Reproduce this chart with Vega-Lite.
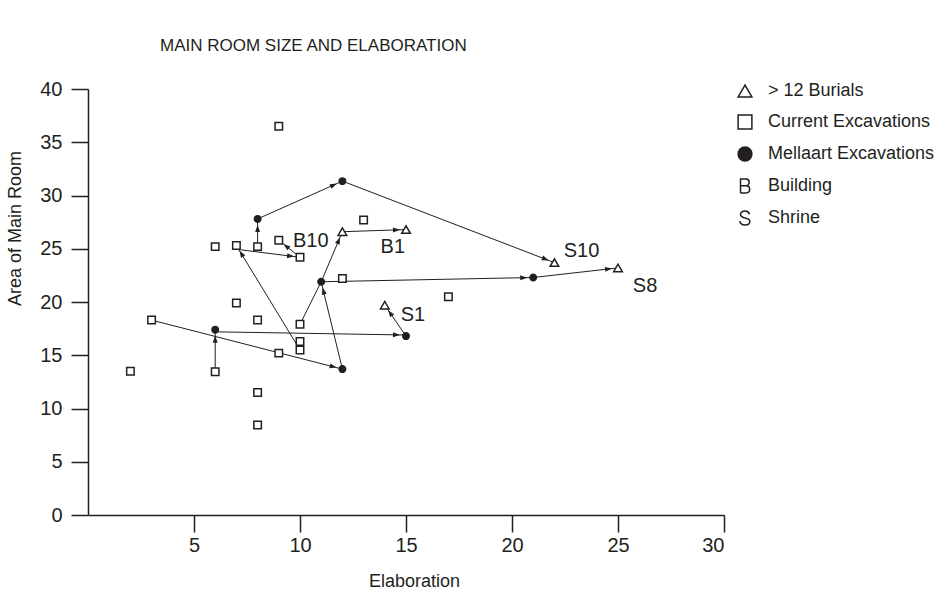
{
  "$schema": "https://vega.github.io/schema/vega-lite/v6.json",
  "width": 636,
  "height": 426,
  "autosize": {"type": "none"},
  "padding": {"left": 88, "top": 89, "right": 216, "bottom": 77},
  "background": "white",
  "config": {"view": {"stroke": null}, "font": "Liberation Sans"},
  "title": {"text": "MAIN ROOM SIZE AND ELABORATION", "anchor": "start", "frame": "group", "dx": 72, "fontSize": 17, "fontWeight": "normal", "color": "#231f20", "offset": 24, "font": "Liberation Sans"},
  "datasets": {
    "points": [
      {"x": 9, "y": 36.5, "kind": "Current Excavations"},
      {"x": 13, "y": 27.7, "kind": "Current Excavations"},
      {"x": 6, "y": 25.2, "kind": "Current Excavations"},
      {"x": 7, "y": 25.3, "kind": "Current Excavations"},
      {"x": 8, "y": 25.2, "kind": "Current Excavations"},
      {"x": 9, "y": 25.8, "kind": "Current Excavations"},
      {"x": 10, "y": 24.2, "kind": "Current Excavations"},
      {"x": 12, "y": 22.2, "kind": "Current Excavations"},
      {"x": 7, "y": 19.9, "kind": "Current Excavations"},
      {"x": 3, "y": 18.3, "kind": "Current Excavations"},
      {"x": 8, "y": 18.3, "kind": "Current Excavations"},
      {"x": 10, "y": 17.9, "kind": "Current Excavations"},
      {"x": 10, "y": 16.3, "kind": "Current Excavations"},
      {"x": 10, "y": 15.5, "kind": "Current Excavations"},
      {"x": 9, "y": 15.2, "kind": "Current Excavations"},
      {"x": 2, "y": 13.5, "kind": "Current Excavations"},
      {"x": 6, "y": 13.45, "kind": "Current Excavations"},
      {"x": 8, "y": 11.5, "kind": "Current Excavations"},
      {"x": 8, "y": 8.45, "kind": "Current Excavations"},
      {"x": 17, "y": 20.5, "kind": "Current Excavations"},
      {"x": 12, "y": 31.35, "kind": "Mellaart Excavations"},
      {"x": 8, "y": 27.8, "kind": "Mellaart Excavations"},
      {"x": 11, "y": 21.9, "kind": "Mellaart Excavations"},
      {"x": 6, "y": 17.4, "kind": "Mellaart Excavations"},
      {"x": 12, "y": 13.7, "kind": "Mellaart Excavations"},
      {"x": 21, "y": 22.3, "kind": "Mellaart Excavations"},
      {"x": 15, "y": 16.8, "kind": "Mellaart Excavations"},
      {"x": 12, "y": 26.6, "kind": "> 12 Burials"},
      {"x": 15, "y": 26.8, "kind": "> 12 Burials"},
      {"x": 22, "y": 23.7, "kind": "> 12 Burials"},
      {"x": 25, "y": 23.2, "kind": "> 12 Burials"},
      {"x": 14, "y": 19.7, "kind": "> 12 Burials"}
    ],
    "arrows": [
      {"x": 8, "y": 25.2, "x2": 8, "y2": 27.8, "head": true},
      {"x": 8, "y": 27.8, "x2": 12, "y2": 31.35, "head": true},
      {"x": 12, "y": 31.35, "x2": 22, "y2": 23.7, "head": true},
      {"x": 7.2, "y": 24.9, "x2": 10, "y2": 24.2, "head": true},
      {"x": 10, "y": 24.2, "x2": 9, "y2": 25.8, "head": true},
      {"x": 10, "y": 15.5, "x2": 7, "y2": 25.3, "head": true},
      {"x": 10, "y": 17.9, "x2": 11, "y2": 21.9, "head": false},
      {"x": 11, "y": 21.9, "x2": 12, "y2": 26.6, "head": true},
      {"x": 12, "y": 13.7, "x2": 11, "y2": 21.9, "head": true},
      {"x": 11, "y": 21.9, "x2": 21, "y2": 22.3, "head": true},
      {"x": 21, "y": 22.3, "x2": 25, "y2": 23.2, "head": true},
      {"x": 12, "y": 26.6, "x2": 15, "y2": 26.8, "head": true},
      {"x": 3, "y": 18.3, "x2": 12, "y2": 13.7, "head": true},
      {"x": 6, "y": 13.45, "x2": 6, "y2": 17.4, "head": true},
      {"x": 6, "y": 17.2, "x2": 15, "y2": 16.9, "head": true},
      {"x": 15, "y": 16.8, "x2": 14, "y2": 19.7, "head": true}
    ],
    "labels": [
      {"x": 9.67, "y": 25.7, "label": "B10"},
      {"x": 13.8, "y": 25.2, "label": "B1"},
      {"x": 22.44, "y": 24.8, "label": "S10"},
      {"x": 25.7, "y": 21.5, "label": "S8"},
      {"x": 14.75, "y": 18.8, "label": "S1"}
    ]
  },
  "encoding": {
    "x": {
      "field": "x", "type": "quantitative", "title": "Elaboration",
      "scale": {"domain": [0, 30], "nice": false, "zero": false},
      "axis": {"values": [5, 10, 15, 20, 25, 30], "grid": false, "tickSize": 17, "tickWidth": 1.5, "tickColor": "#231f20", "domainColor": "#231f20", "domainWidth": 1.5, "labelFontSize": 20, "labelColor": "#231f20", "labelPadding": 3, "labelFont": "Liberation Sans", "titleFont": "Liberation Sans", "titleFontSize": 18, "titleFontWeight": "normal", "titleColor": "#231f20", "titleX": 326, "titleY": 71, "titleBaseline": "alphabetic", "titleAlign": "center"}
    },
    "y": {
      "field": "y", "type": "quantitative", "title": "Area of Main Room",
      "scale": {"domain": [0, 40], "nice": false, "zero": false},
      "axis": {"values": [0, 5, 10, 15, 20, 25, 30, 35, 40], "grid": false, "tickSize": 17, "tickWidth": 1.5, "tickColor": "#231f20", "domainColor": "#231f20", "domainWidth": 1.5, "labelFontSize": 20, "labelColor": "#231f20", "labelPadding": 9, "labelFont": "Liberation Sans", "titleFont": "Liberation Sans", "titleFontSize": 18, "titleFontWeight": "normal", "titleColor": "#231f20", "titleX": -73, "titleY": 139, "titleAngle": -90, "titleAlign": "center", "titleBaseline": "middle"}
    }
  },
  "layer": [
    {
      "data": {"name": "arrows"},
      "mark": {"type": "rule", "color": "#231f20", "strokeWidth": 1},
      "encoding": {
        "x2": {"field": "x2"},
        "y2": {"field": "y2"}
      }
    },
    {
      "data": {"name": "arrows"},
      "transform": [
        {"filter": "datum.head"},
        {"calculate": "atan2((datum.x2 - datum.x) * 636 / 30, (datum.y2 - datum.y) * 426 / 40) * 180 / PI", "as": "angle"}
      ],
      "mark": {"type": "point", "shape": "M0,0.6L0.25,1.3L-0.25,1.3Z", "size": 400, "filled": true, "color": "#231f20", "opacity": 1},
      "encoding": {
        "x": {"field": "x2", "type": "quantitative", "title": "Elaboration"},
        "y": {"field": "y2", "type": "quantitative", "title": "Area of Main Room"},
        "angle": {"field": "angle", "type": "quantitative", "scale": null}
      }
    },
    {
      "data": {"name": "points"},
      "mark": {"type": "point", "strokeWidth": 1.5, "opacity": 1},
      "encoding": {
        "shape": {
          "field": "kind", "type": "nominal",
          "scale": {"domain": ["> 12 Burials", "Current Excavations", "Mellaart Excavations", "Building", "Shrine"],
                    "range": ["triangle-up", "square", "circle", "M-0.65,1V-1H0.15C0.75,-1 0.75,-0.05 0.15,-0.05H-0.65M0.15,-0.05C0.85,-0.05 0.85,1 0.15,1H-0.65", "M0.65,-0.55C0.55,-0.9 0.25,-1 0,-1C-0.45,-1 -0.65,-0.8 -0.65,-0.5C-0.65,-0.15 -0.3,-0.07 0,0C0.4,0.08 0.7,0.2 0.7,0.5C0.7,0.85 0.4,1 0,1C-0.4,1 -0.7,0.85 -0.75,0.45"]},
          "legend": {"title": null, "orient": "none", "legendX": 648, "legendY": -7, "padding": 0, "symbolSize": 190, "symbolStrokeWidth": 1.5, "labelFontSize": 18, "labelFont": "Liberation Sans", "labelColor": "#231f20", "labelOffset": 14, "labelLimit": 400, "rowPadding": 12}
        },
        "fill": {
          "field": "kind", "type": "nominal",
          "scale": {"domain": ["> 12 Burials", "Current Excavations", "Mellaart Excavations", "Building", "Shrine"],
                    "range": ["white", "white", "#231f20", "transparent", "transparent"]},
          "legend": {"title": null, "orient": "none", "legendX": 648, "legendY": -7, "padding": 0, "symbolSize": 190, "symbolStrokeWidth": 1.5, "labelFontSize": 18, "labelFont": "Liberation Sans", "labelColor": "#231f20", "labelOffset": 14, "labelLimit": 400, "rowPadding": 12}
        },
        "stroke": {
          "field": "kind", "type": "nominal",
          "scale": {"domain": ["> 12 Burials", "Current Excavations", "Mellaart Excavations", "Building", "Shrine"],
                    "range": ["#231f20", "#231f20", "#231f20", "#231f20", "#231f20"]},
          "legend": {"title": null, "orient": "none", "legendX": 648, "legendY": -7, "padding": 0, "symbolSize": 190, "symbolStrokeWidth": 1.5, "labelFontSize": 18, "labelFont": "Liberation Sans", "labelColor": "#231f20", "labelOffset": 14, "labelLimit": 400, "rowPadding": 12}
        },
        "size": {
          "condition": [
            {"test": "datum.kind === 'Mellaart Excavations'", "value": 42},
            {"test": "datum.kind === '> 12 Burials'", "value": 75}
          ],
          "value": 56
        }
      }
    },
    {
      "data": {"name": "labels"},
      "mark": {"type": "text", "align": "left", "baseline": "middle", "fontSize": 20, "font": "Liberation Sans", "color": "#231f20"},
      "encoding": {
        "text": {"field": "label", "type": "nominal"}
      }
    }
  ]
}
